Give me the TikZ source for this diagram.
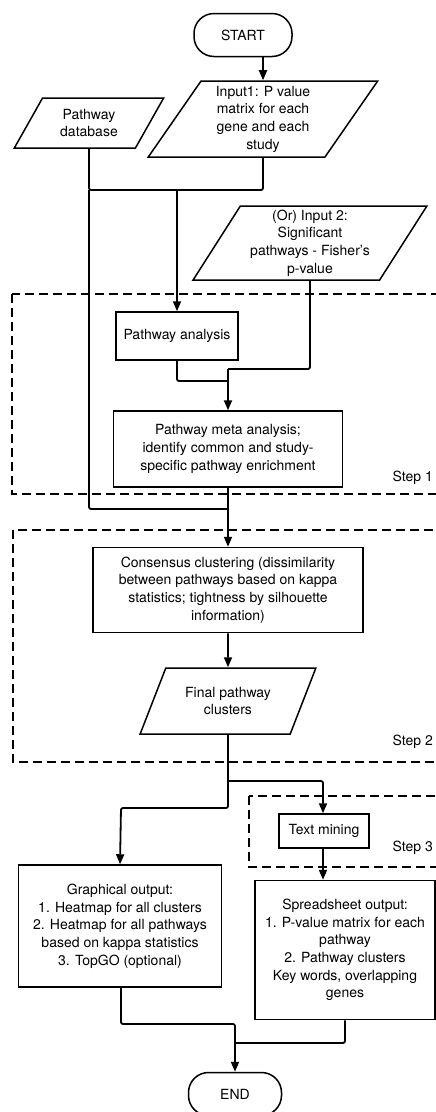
\documentclass[tikz,border=0pt]{standalone}
\usepackage{fontspec}
\setmainfont{TeX Gyre Heros}
\usepackage{tikz}
\usetikzlibrary{shapes,arrows.meta,positioning,calc}
\usepackage{xcolor}
\definecolor{flowline}{RGB}{0,0,0}
\newcommand{\flowfont}{\fontsize{14}{17.7}\selectfont}
\tikzset{
    term/.style={draw, rounded corners=20pt, line width=1.5pt,
                 minimum width=98pt, minimum height=43pt,
                 font=\flowfont, align=center},
    procbox/.style={draw, line width=1.5pt, minimum width=#1,
                    inner sep=2pt, font=\flowfont, align=center},
    iobox/.style={draw, trapezium, trapezium left angle=59,
                  trapezium right angle=121, trapezium stretches=true,
                  line width=1.5pt, minimum width=#1, inner sep=1pt,
                  font=\flowfont, align=center},
    stepframe/.style={dash pattern=on 9pt off 5pt, line width=2.5pt},
    steplabel/.style={anchor=east, font=\flowfont, inner sep=0pt},
}

\begin{document}
\begin{tikzpicture}[
    x=1pt, y=-1pt,
    arr/.style={-{Triangle[length=10pt,width=8pt]}, line width=1.8pt,
                flowline, rounded corners=2pt},
    line/.style={line width=1.8pt, flowline, rounded corners=2pt}
]
    \useasboundingbox (0,0) rectangle (436,1112);
    \draw[stepframe] (12,294) rectangle (460,494);
    \draw[stepframe] (13,530) rectangle (460,762);
    \draw[stepframe] (249,796) rectangle (460,867);
    \node[steplabel] (lblA) at (433,478) {Step 1};
    \node[steplabel] (lblB) at (433,742) {Step 2};
    \node[steplabel] (lblC) at (433,848) {Step 3};

    \node[term] (start) at (243,35) {START};
    \node[iobox=230pt, minimum height=76pt] (inA) at (263,119)
        {Input1: P value\\matrix for each\\gene and each\\study};
    \node[iobox=150pt, minimum height=50pt] (db) at (89,123)
        {Pathway\\database};
    \node[iobox=234pt, minimum height=74pt] (inB) at (310,243)
        {(Or) Input 2:\\Significant\\pathways - Fisher's\\p-value};
    \node[procbox=122pt, minimum height=48pt] (pa) at (177,336)
        {Pathway analysis};
    \node[procbox=229pt, minimum height=76pt] (meta) at (228,449)
        {Pathway meta analysis;\\identify common and study-\\specific pathway enrichment};
    \node[procbox=270pt, minimum height=85pt] (cons) at (228,590)
        {Consensus clustering (dissimilarity\\between pathways based on kappa\\statistics; tightness by silhouette\\information)};
    \node[iobox=176pt, minimum height=66pt] (final) at (228,701)
        {Final pathway\\clusters};
    \node[procbox=90pt, minimum height=34pt] (tm) at (324,831)
        {Text mining};
    \node[procbox=203pt, minimum height=122pt] (graph) at (120,926)
        {Graphical output:\\1. Heatmap for all clusters\\2. Heatmap for all pathways\\based on kappa statistics\\3. TopGO (optional)};
    \node[procbox=180pt, minimum height=139pt] (sheet) at (345,950)
        {Spreadsheet output:\\1. P-value matrix for each\\pathway\\2. Pathway clusters\\Key words, overlapping\\genes};
    \node[term, minimum width=93pt] (end) at (235,1094) {END};

    \coordinate (jtop) at (177,190);
    \coordinate (jB) at (228,369);
    \coordinate (jA) at (228,381);
    \coordinate (jdb) at (228,509);
    \coordinate (jg) at (121,808);
    \coordinate (jt) at (323,781);
    \coordinate (jend) at (235,1024);
    \coordinate (jsh) at (235,1043);

    \draw[arr] (inA.north |- start.south) -- (inA.north);
    \draw[line] (db.south) -- (db.south |- jtop) -- (inA.south |- jtop) -- (inA.south);
    \draw[arr] (jtop) -- (pa.north);
    \draw[line] (db.south |- jtop) |- (jdb);
    \draw[line] (inB.south) |- (jB);
    \draw[line] (pa.south) |- (jA);
    \draw[arr] (jB) -- (meta.north);
    \draw[arr] (meta.south) -- (cons.north);
    \draw[arr] (cons.south) -- (final.north);
    \draw[arr] (final.south) |- (jg) -- (graph.north);
    \draw[arr] (final.south |- jt) -- (jt) -- (tm.north -| jt);
    \draw[arr] (tm.south -| jt) -- (sheet.north -| jt);
    \draw[arr] (graph.south -| jg) |- (jend) -- (end.north);
    \draw[line] (sheet.south) |- (jsh);
\end{tikzpicture}
\end{document}
